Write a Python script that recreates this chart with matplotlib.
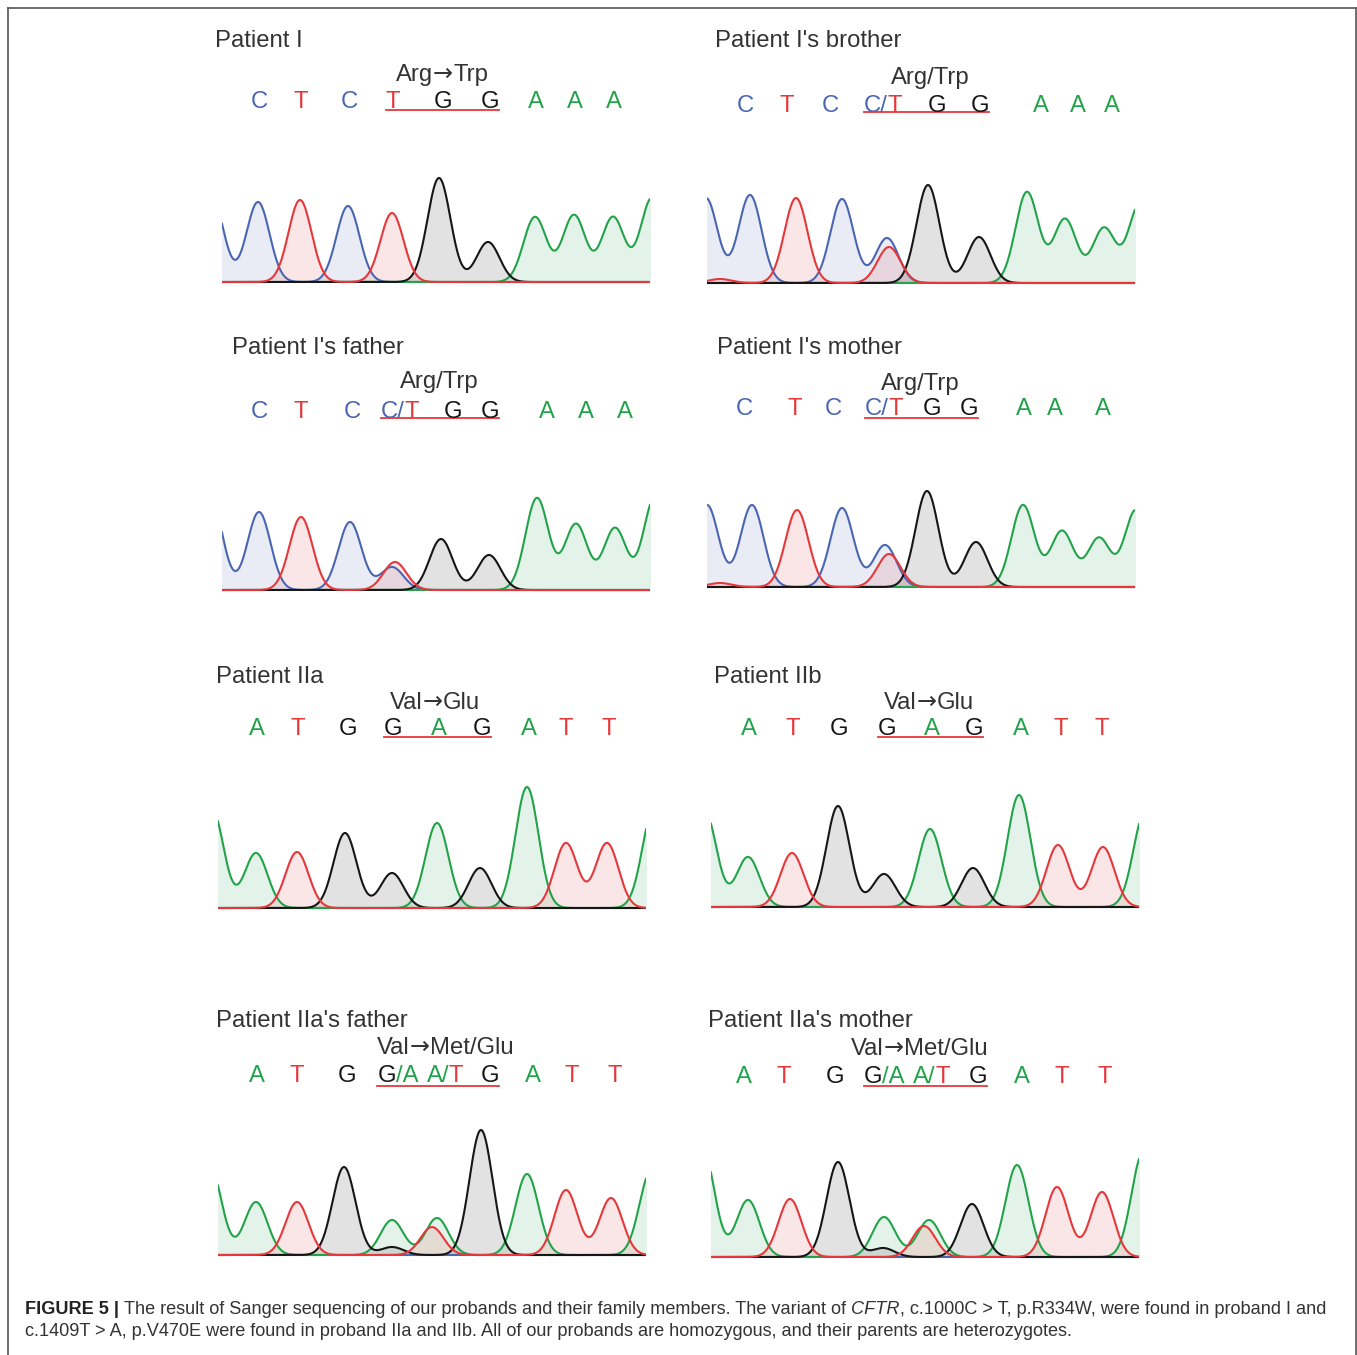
import matplotlib
matplotlib.use('Agg')
import numpy as np
import matplotlib.pyplot as plt
from matplotlib.lines import Line2D
from matplotlib.transforms import blended_transform_factory, offset_copy

plt.rcParams['font.family'] = ['Liberation Sans', 'DejaVu Sans']

W, H = 1357, 1355

# цвета оснований, как в хроматограмме
base_colors = {'A': '#22a34a', 'C': '#4a66b3', 'G': '#161616', 'T': '#e6383b'}

names = ["Patient I", "Patient I's brother", "Patient I's father", "Patient I's mother",
         "Patient IIa", "Patient IIb", "Patient IIa's father", "Patient IIa's mother"]
changes = ["Arg\u2192Trp", "Arg/Trp", "Arg/Trp", "Arg/Trp",
           "Val\u2192Glu", "Val\u2192Glu", "Val\u2192Met/Glu", "Val\u2192Met/Glu"]

# пики: (основание, позиция скана, высота сигнала)
peaks_I = [('C', -10, 84), ('C', 36, 80), ('T', 78, 82), ('C', 126, 76), ('T', 170, 69),
           ('G', 217, 104), ('G', 266, 40), ('A', 313, 65), ('A', 352, 67), ('A', 391, 65),
           ('A', 430, 84)]
peaks_brother = [('C', -1, 85), ('T', 13, 4), ('C', 43, 88), ('T', 89, 85), ('C', 135, 84),
                 ('C', 180, 45), ('T', 182, 36), ('G', 221, 98), ('G', 272, 46), ('A', 320, 91),
                 ('A', 358, 64), ('A', 397, 55), ('A', 433, 79)]
peaks_father = [('C', -11, 90), ('C', 37, 78), ('T', 79, 73), ('C', 128, 68), ('C', 170, 23),
                ('T', 173, 28), ('G', 219, 51), ('G', 267, 35), ('A', 315, 92), ('A', 354, 66),
                ('A', 393, 62), ('A', 433, 93)]
peaks_mother = [('C', 0, 82), ('T', 13, 4), ('C', 45, 82), ('T', 90, 77), ('C', 135, 79),
                ('C', 178, 42), ('T', 182, 33), ('G', 220, 96), ('G', 269, 45), ('A', 316, 82),
                ('A', 355, 56), ('A', 392, 49), ('A', 429, 77)]
peaks_IIa = [('A', -6, 99), ('A', 38, 55), ('T', 79, 56), ('G', 127, 75), ('G', 174, 35),
             ('A', 219, 85), ('G', 262, 40), ('A', 309, 121), ('T', 348, 65), ('T', 389, 65),
             ('A', 436, 100)]
peaks_IIb = [('A', -6, 95), ('A', 37, 50), ('T', 81, 54), ('G', 127, 101), ('G', 173, 33),
             ('A', 219, 78), ('G', 262, 39), ('A', 308, 112), ('T', 347, 62), ('T', 392, 60),
             ('A', 434, 95)]
peaks_IIa_father = [('A', -8, 88), ('A', 38, 53), ('T', 79, 53), ('G', 126, 88), ('A', 174, 35),
                    ('G', 174, 8), ('T', 214, 28), ('A', 219, 37), ('G', 263, 125), ('A', 309, 81),
                    ('T', 348, 65), ('T', 393, 57), ('A', 433, 84)]
peaks_IIa_mother = [('A', -8, 107), ('A', 37, 57), ('T', 79, 58), ('G', 127, 95), ('A', 173, 40),
                    ('G', 172, 9), ('T', 213, 31), ('A', 218, 37), ('G', 261, 53), ('A', 306, 92),
                    ('T', 346, 70), ('T', 391, 65), ('A', 432, 104)]

# прочитанные основания ('|' разделяет цветные части) и их позиции
calls_I = ['C', 'T', 'C', 'T', 'G', 'G', 'A', 'A', 'A']
calls_het_I = ['C', 'T', 'C', 'C/|T', 'G', 'G', 'A', 'A', 'A']
calls_II = ['A', 'T', 'G', 'G', 'A', 'G', 'A', 'T', 'T']
calls_het_II = ['A', 'T', 'G', 'G|/A', 'A/|T', 'G', 'A', 'T', 'T']
call_at_I = [37, 79, 127, 171, 221, 268, 314, 353, 392]
call_at_brother = [38, 80, 123, 176, 230, 273, 334, 371, 405]
call_at_father = [37, 79, 130, 178, 231, 268, 325, 364, 403]
call_at_mother = [37, 88, 126, 177, 225, 262, 317, 348, 396]
call_at_IIa = [39, 80, 130, 175, 221, 264, 311, 348, 391]
call_at_IIb = [38, 82, 128, 176, 221, 263, 310, 350, 391]
call_at_IIa_father = [39, 79, 129, 180, 227, 272, 315, 354, 397]
call_at_IIa_mother = [33, 73, 124, 173, 220, 267, 311, 351, 394]

panels = [(peaks_I, calls_I, call_at_I), (peaks_brother, calls_het_I, call_at_brother),
          (peaks_father, calls_het_I, call_at_father), (peaks_mother, calls_het_I, call_at_mother),
          (peaks_IIa, calls_II, call_at_IIa), (peaks_IIb, calls_II, call_at_IIb),
          (peaks_IIa_father, calls_het_II, call_at_IIa_father),
          (peaks_IIa_mother, calls_het_II, call_at_IIa_mother)]

# раскладка (в пикселях рисунка)
trace_left = [222, 707, 222, 707, 218, 711, 218, 711]
trace_base = [282, 283, 590, 587, 908, 907, 1255, 1257]
name_pos = [(215, 46.7), (715, 46.7), (232, 354), (717, 354),
            (216, 682.7), (714, 682.7), (216, 1027.3), (708, 1027.3)]
change_pos = [(442, 81), (930, 84), (439, 387.7), (920, 390),
              (435, 709), (929, 709), (445, 1054), (919, 1055)]
calls_base = [108, 111.5, 418, 415.5, 735, 735, 1081.7, 1083.3]
underline_y = [109.5, 112, 418.3, 418.3, 736.7, 736.7, 1085.7, 1085.7]

SCAN = 428
YTOP = 135
PAD = 4
SIGMA = 11.5
FS = 17.2

fig = plt.figure(figsize=(W / 100, H / 100), dpi=100)
renderer = fig.canvas.get_renderer()
txt_color = '#333333'


def pieces_centered(x0, y0, trans, pieces, fs):
    # выводит цветные куски текста подряд, центрируя всю строку на x0
    texts = []
    for s, c, fam in pieces:
        t = fig.text(x0, y0, s, transform=trans, fontsize=fs, va='baseline', ha='left',
                     color=c, family=fam)
        texts.append(t)
    widths = [t.get_window_extent(renderer).width for t in texts]
    dx = -sum(widths) / 2
    for t, w in zip(texts, widths):
        t.set_transform(offset_copy(trans, fig=fig, x=dx, y=0, units='dots'))
        dx += w
    return texts


x = np.linspace(-2, SCAN + 2, 1500)
for i, (peaks, calls, call_at) in enumerate(panels):
    L, B = trace_left[i], trace_base[i]
    ax = fig.add_axes([L / W, (H - B - PAD) / H, SCAN / W, (YTOP + PAD) / H])
    ax.set_xlim(0, SCAN)
    ax.set_ylim(-PAD, YTOP)
    ax.axis('off')
    traces = {}
    for b in ['C', 'A', 'G', 'T']:
        y = np.zeros_like(x)
        for pb, pc, ph in peaks:
            if pb == b:
                y += ph * np.exp(-(x - pc) ** 2 / (2 * SIGMA ** 2))
        traces[b] = y
        ax.fill_between(x, 0, y, color=base_colors[b], alpha=0.12, lw=0)
    for b in ['C', 'A', 'G', 'T']:
        ax.plot(x, traces[b], color=base_colors[b], lw=1.5, solid_capstyle='butt')

    # подписи
    fig.text(name_pos[i][0] / W, 1 - name_pos[i][1] / H, names[i], fontsize=FS,
             color=txt_color, va='baseline', ha='left')
    chg = changes[i].split('\u2192')
    if len(chg) == 2:
        chg_pieces = [(chg[0], txt_color, 'Liberation Sans'), ('\u2192', txt_color, 'DejaVu Sans'),
                      (chg[1], txt_color, 'Liberation Sans')]
    else:
        chg_pieces = [(changes[i], txt_color, 'Liberation Sans')]
    pieces_centered(change_pos[i][0] / W, 1 - change_pos[i][1] / H, fig.transFigure,
                    chg_pieces, FS)

    # буквы оснований
    trans = blended_transform_factory(ax.transData, fig.transFigure)
    yb = 1 - calls_base[i] / H
    boxes = []
    for call, pos in zip(calls, call_at):
        parts = [(p, base_colors[p.replace('/', '')], 'Liberation Sans') for p in call.split('|')]
        texts = pieces_centered(pos, yb, trans, parts, FS)
        boxes.append((texts[0].get_window_extent(renderer).x0,
                      texts[-1].get_window_extent(renderer).x1))
    x0 = boxes[3][0] / W
    x1 = boxes[5][1] / W
    fig.add_artist(Line2D([x0, x1], [1 - underline_y[i] / H] * 2, color=base_colors['T'], lw=1.3))

# подпись к рисунку
cap1 = [("FIGURE 5 | ", 'bold', 'normal', '#222222'),
        ("The result of Sanger sequencing of our probands and their family members. The variant of ",
         'normal', 'normal', txt_color),
        ("CFTR", 'normal', 'italic', txt_color),
        (", c.1000C > T, p.R334W, were found in proband I and", 'normal', 'normal', txt_color)]
cap2 = [("c.1409T > A, p.V470E were found in proband IIa and IIb. All of our probands are "
         "homozygous, and their parents are heterozygotes.", 'normal', 'normal', txt_color)]
for line, yb in [(cap1, 1314.5), (cap2, 1336)]:
    xp = 25.0
    for s, wt, st, c in line:
        t = fig.text(xp / W, 1 - yb / H, s, fontsize=13.1, fontweight=wt, fontstyle=st,
                     color=c, va='baseline', ha='left')
        xp += t.get_window_extent(renderer).width

# рамка
fr = '#555555'
fig.add_artist(Line2D([8 / W, 8 / W], [0, 1 - 8 / H], color=fr, lw=1.2))
fig.add_artist(Line2D([8 / W, 1355.5 / W], [1 - 8 / H, 1 - 8 / H], color=fr, lw=1.2))
fig.add_artist(Line2D([1355.5 / W, 1355.5 / W], [0, 1 - 8 / H], color=fr, lw=1.2))

fig.savefig('out.png', dpi=100)
